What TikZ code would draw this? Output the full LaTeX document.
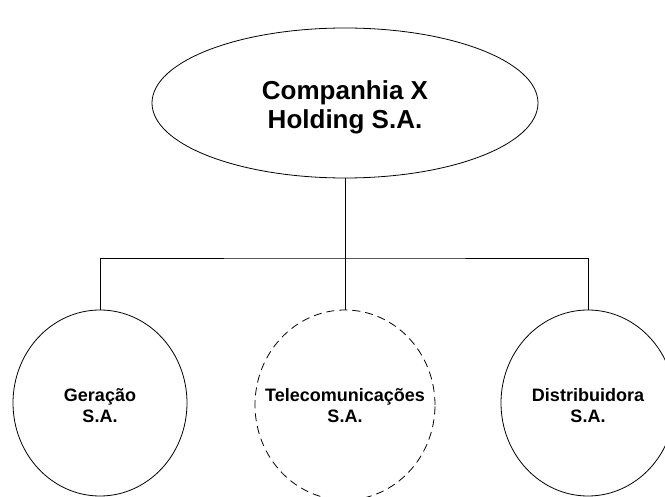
\documentclass[tikz,border=0pt]{standalone}
\usepackage{fontspec}
\setmainfont{Liberation Sans}
\usetikzlibrary{shapes.geometric}
\begin{document}
\begin{tikzpicture}[x=1pt,y=-1pt,
  unit/.style={ellipse, draw=black, line width=0.8pt, inner sep=0pt},
  caption/.style={inner sep=0pt, align=center, font=\fontsize{18}{21}\selectfont\bfseries},
  bigcaption/.style={inner sep=0pt, align=center, font=\fontsize{26}{29}\selectfont\bfseries},
  planned/.style={dash pattern=on 8pt off 5pt},
  link/.style={draw=black, line width=0.8pt}]
\clip (0,0) rectangle (665,497);
\fill[white] (0,0) rectangle (665,497);

% company shapes
\node[unit, minimum width=386pt, minimum height=150pt] (hold) at (345,103) {};
\node[unit, minimum width=174pt, minimum height=186pt] (gen) at (100,403) {};
\node[unit, planned, minimum width=180pt, minimum height=190pt] (tel) at (345,405) {};
\node[unit, minimum width=174pt, minimum height=186pt] (dist) at (588,403) {};

% company names
\node[bigcaption] (hold-t) at (345,107) {Companhia X\\Holding S.A.};
\node[caption] (gen-t) at (100,406) {Geração\\S.A.};
\node[caption] (tel-t) at (345,406) {Telecomunicações\\S.A.};
\node[caption] (dist-t) at (588,406) {Distribuidora\\S.A.};

% ownership links
\coordinate (bus) at (345,258);
\draw[link] (hold.south) -- (bus);
\draw[link] (gen.north) |- (bus) -| (dist.north);
\draw[link] (bus) -- (tel.north);
\end{tikzpicture}
\end{document}
